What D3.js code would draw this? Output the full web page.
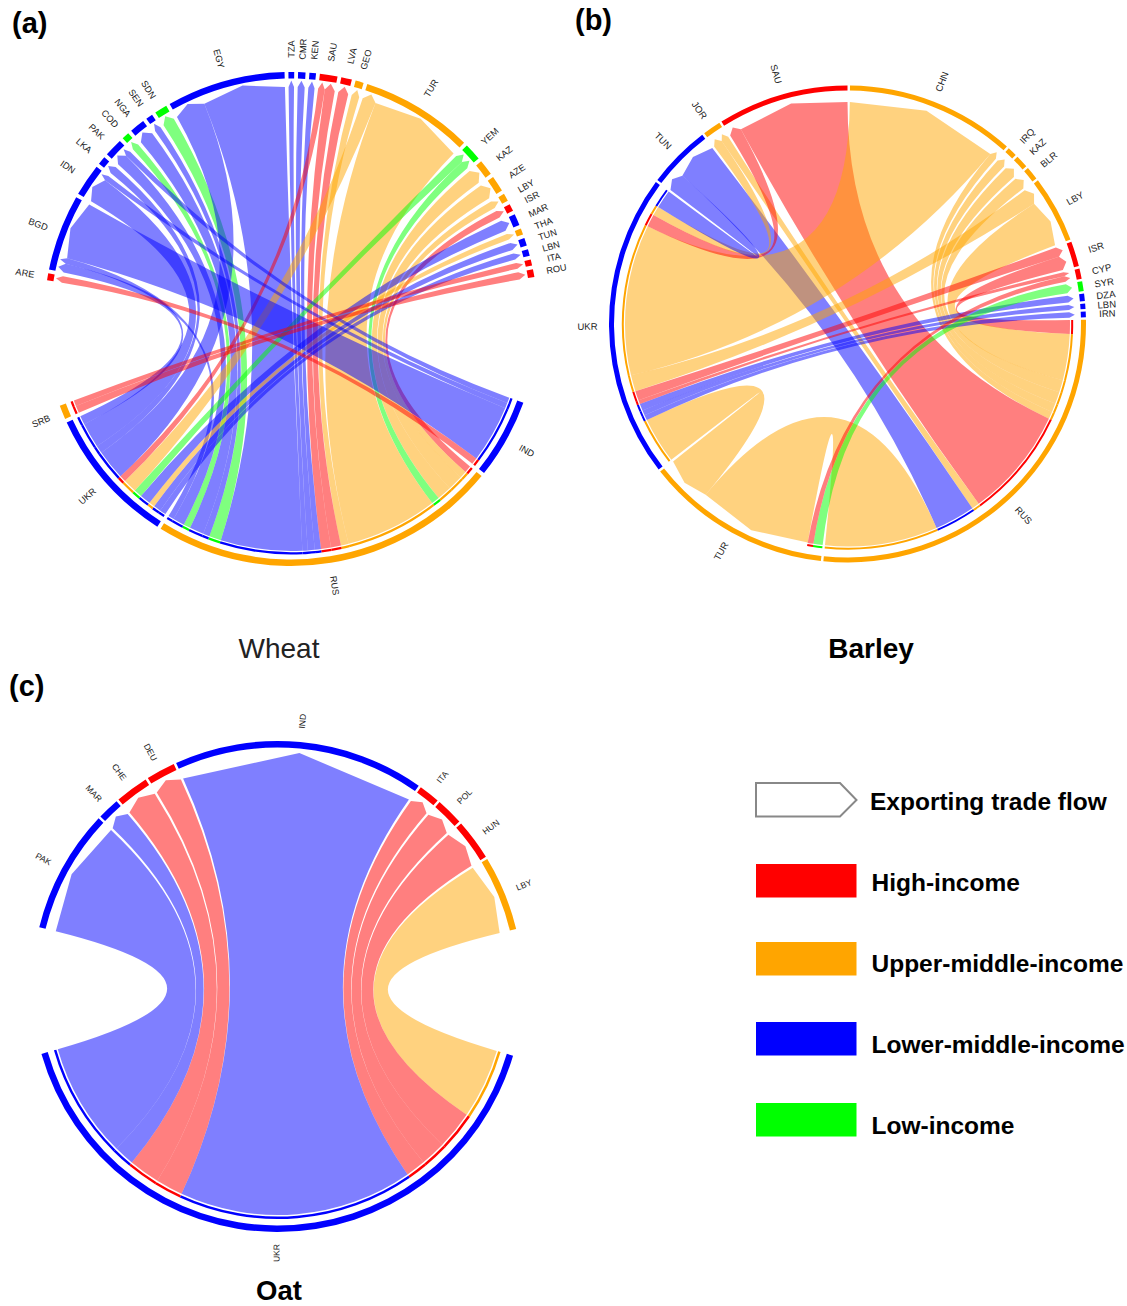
<!DOCTYPE html>
<html>
<head>
<meta charset="utf-8">
<script src="https://cdn.jsdelivr.net/npm/d3@7"></script>
<style>
html,body{margin:0;padding:0;background:#fff}
svg{display:block}
text{font-family:"Liberation Sans",Arial,sans-serif}
</style>
</head>
<body>
<div id="chart"></div>
<script>
// ---------- data: angular extents ----------
const incomeNames = ["High-income","Upper-middle-income","Lower-middle-income","Low-income"];
const incomeColors = ["#ff0000","#ffa500","#0000ff","#00ff00"];

// Wheat
const wheatCountries = ["TZA","CMR","KEN","SAU","LVA","GEO","TUR","YEM","KAZ","AZE","LBY","ISR","MAR","THA","TUN","LBN","ITA","ROU","IND","RUS","UKR","SRB","ARE","BGD","IDN","LKA","PAK","COD","NGA","SEN","SDN","EGY"];
const wheatIncome = [2,2,2,0,0,1,1,3,1,1,1,0,2,1,2,2,0,0,2,1,2,1,0,2,2,2,2,3,2,2,3,2];
const wheatFrom = ["RUS","RUS","RUS","RUS","RUS","RUS","RUS","RUS","RUS","RUS","RUS","RUS","RUS","RUS","RUS","RUS","RUS","RUS","RUS",
                   "UKR","UKR","UKR","UKR","UKR","UKR","UKR","UKR","UKR","UKR","UKR",
                   "IND","IND","IND","IND","SRB","SRB"];
const wheatTo   = ["ISR","LBY","AZE","KAZ","YEM","TUR","GEO","LVA","SAU","KEN","CMR","TZA","EGY","SDN","SEN","NGA","COD","PAK","BGD",
                   "LBN","TUN","THA","MAR","YEM","TUR","SAU","EGY","LKA","IDN","BGD",
                   "BGD","IDN","PAK","ARE","ROU","ITA"];
const wheatValue= [1.8,1.9,3.9,3.8,2.1,24.0,2.0,2.6,2.6,1.6,1.8,1.4,21.2,3.1,1.7,3.7,1.8,3.0,1.5,
                   1.6,1.9,1.5,2.8,2.1,3.5,1.7,7.8,2.0,6.5,2.3,
                   14.9,1.4,1.5,1.7,1.9,1.5];

// Barley
const barleyCountries = ["CHN","IRQ","KAZ","BLR","LBY","ISR","CYP","SYR","DZA","LBN","IRN","RUS","TUR","UKR","TUN","JOR","SAU"];
const barleyIncome = [1,1,1,1,1,0,0,3,2,2,2,1,1,2,2,1,0];
const barleyFrom = ["RUS","RUS","RUS","RUS","RUS","RUS","RUS","RUS","RUS","RUS",
                    "UKR","UKR","UKR","UKR","UKR","UKR","UKR","UKR","UKR","UKR","UKR",
                    "TUR","TUR"];
const barleyTo   = ["ISR","LBY","BLR","KAZ","IRQ","CHN","SAU","JOR","TUN","TUR",
                    "TUR","IRN","LBN","DZA","ISR","CYP","CHN","LBY","SAU","JOR","TUN",
                    "SYR","CYP"];
const barleyValue= [3.6,12.0,3.2,3.1,2.3,1.9,28.6,2.0,10.5,29.3,
                    12.0,1.4,1.3,1.8,2.5,1.0,39.3,4.2,3.2,2.4,4.8,
                    2.4,1.5];

// Oat
const oatCountries = ["IND","ITA","POL","HUN","LBY","UKR","PAK","MAR","CHE","DEU"];
const oatIncome = [2,0,0,0,1,2,2,2,0,0];
const oatFrom = ["UKR","UKR","UKR","UKR","UKR","UKR","UKR","UKR","UKR"];
const oatTo   = ["LBY","HUN","POL","ITA","IND","DEU","CHE","MAR","PAK"];
const oatValue= [17.8,9.7,6.5,5.0,59.6,6.9,7.9,5.2,29.3];

// ---------- layout settings ----------
const panels = [
  {countries:wheatCountries, income:wheatIncome, from:wheatFrom, to:wheatTo, value:wheatValue,
   cx:291, cy:319, R:247, track:6.5, gap:0.9, bigGap:29.6, bigAfter:["ROU","SRB"], start:359.4,
   ribbon:15, lineIn:13.8, lineOut:11.5, headBase:15, headApex:8.5, labelR:23, labelSize:9.2},
  {countries:barleyCountries, income:barleyIncome, from:barleyFrom, to:barleyTo, value:barleyValue,
   cx:847.5, cy:324, R:238.5, track:5, gap:0.6, bigGap:0.6, bigAfter:[], start:0.6,
   ribbon:16, lineIn:14.8, lineOut:12.8, headBase:16.5, headApex:11, labelR:21.5, labelSize:9.5},
  {countries:oatCountries, income:oatIncome, from:oatFrom, to:oatTo, value:oatValue,
   cx:277.5, cy:986.5, R:245.5, track:6.5, gap:0.6, bigGap:29.9, bigAfter:["LBY","UKR"], start:335.6,
   ribbon:17, lineIn:15.5, lineOut:13, headBase:17, headApex:11, labelR:21, labelSize:8.6}
];

const svg = d3.select("#chart").append("svg").attr("width",1127).attr("height",1306);
const rad = d => d*Math.PI/180;
const pt = (deg,r) => [r*Math.sin(rad(deg)), -r*Math.cos(rad(deg))];

panels.forEach(p=>{
  const g = svg.append("g").attr("transform",`translate(${p.cx},${p.cy})`);
  const totals = new Map(p.countries.map(c=>[c,0]));
  p.value.forEach((v,i)=>{ totals.set(p.from[i],totals.get(p.from[i])+v); totals.set(p.to[i],totals.get(p.to[i])+v); });
  const sumAll = d3.sum(totals.values());
  const sumGaps = d3.sum(p.countries,c=>p.bigAfter.includes(c)?p.bigGap:p.gap);
  const ang = d3.scaleLinear().domain([0,sumAll]).range([0,360-sumGaps]);

  // sectors, clockwise
  const sectors = new Map();
  let cur = p.start;
  p.countries.forEach((c,i)=>{
    const a0 = cur, a1 = cur + ang(totals.get(c));
    sectors.set(c,{name:c,income:p.income[i],a0,a1,mid:(a0+a1)/2,cursor:a0});
    cur = a1 + (p.bigAfter.includes(c)?p.bigGap:p.gap);
  });

  // slot positions in each sector: outgoing first, then incoming; no twisting
  const flows = p.value.map((v,i)=>({from:sectors.get(p.from[i]),to:sectors.get(p.to[i]),v}));
  const cw = (a,b)=>((b.mid-a.mid)+360)%360;
  p.countries.forEach(c=>{
    const s = sectors.get(c);
    const out = flows.filter(f=>f.from===s).sort((x,y)=>cw(s,y.to)-cw(s,x.to));
    out.forEach(f=>{ f.s0=s.cursor; f.s1=s.cursor+ang(f.v); s.cursor=f.s1; });
    const inc = flows.filter(f=>f.to===s).sort((x,y)=>cw(s,y.from)-cw(s,x.from));
    inc.forEach(f=>{ f.t0=s.cursor; f.t1=s.cursor+ang(f.v); s.cursor=f.t1; });
  });

  // ribbons
  const rE = p.R-p.ribbon, rB = p.R-p.headBase, rA = p.R-p.headApex;
  const ribbonPath = f=>{
    const path = d3.path();
    const s0 = pt(f.s0,rE);
    path.moveTo(s0[0],s0[1]);
    path.arc(0,0,rE,rad(f.s0)-Math.PI/2,rad(f.s1)-Math.PI/2);
    const t0 = pt(f.t0,rB);
    path.quadraticCurveTo(0,0,t0[0],t0[1]);
    const tip = pt((f.t0+f.t1)/2,rA), t1 = pt(f.t1,rB);
    path.lineTo(tip[0],tip[1]);
    path.lineTo(t1[0],t1[1]);
    path.quadraticCurveTo(0,0,s0[0],s0[1]);
    path.closePath();
    return path.toString();
  };
  g.selectAll("path.ribbon").data(flows).join("path").attr("class","ribbon")
    .attr("d",ribbonPath)
    .attr("fill",f=>incomeColors[f.to.income])
    .attr("fill-opacity",0.5);

  // exporter-side thin lines
  const lineArc = d3.arc().innerRadius(p.R-p.lineIn).outerRadius(p.R-p.lineOut);
  g.selectAll("path.line").data(flows).join("path").attr("class","line")
    .attr("d",f=>lineArc({startAngle:rad(f.s0),endAngle:rad(f.s1)}))
    .attr("fill",f=>incomeColors[f.to.income]);

  // outer track
  const arc = d3.arc().innerRadius(p.R-p.track).outerRadius(p.R);
  const secs = Array.from(sectors.values());
  g.selectAll("path.track").data(secs).join("path").attr("class","track")
    .attr("d",s=>arc({startAngle:rad(s.a0),endAngle:rad(s.a1)}))
    .attr("fill",s=>incomeColors[s.income]);

  // labels
  g.selectAll("text.lab").data(secs).join("text").attr("class","lab")
    .attr("transform",s=>{
      const m = ((s.mid%360)+360)%360;
      const q = pt(m,p.R+p.labelR);
      const rot = m<=180 ? m-90 : m+90;
      return `translate(${q[0]},${q[1]}) rotate(${rot})`;
    })
    .attr("text-anchor","middle").attr("dy","0.35em")
    .attr("font-size",p.labelSize).attr("fill","#222")
    .text(s=>s.name);
});

// panel letters and titles
const letters = [["(a)",12,33],["(b)",575,30],["(c)",9,696]];
svg.selectAll("text.letter").data(letters).join("text").attr("class","letter")
  .attr("x",d=>d[1]).attr("y",d=>d[2]).attr("font-size",29).attr("font-weight","bold").attr("fill","#000").text(d=>d[0]);
const titles = [["Wheat",279,658,"normal",28],["Barley",871,658,"bold",28],["Oat",279,1300,"bold",27.5]];
svg.selectAll("text.title").data(titles).join("text").attr("class","title")
  .attr("x",d=>d[1]).attr("y",d=>d[2]).attr("text-anchor","middle").attr("font-size",d=>d[4])
  .attr("font-weight",d=>d[3]).attr("fill",d=>d[3]==="bold"?"#000":"#222").text(d=>d[0]);

// legend
svg.append("path").attr("d","M756,783H840L856.5,800L840,816.5H756Z")
  .attr("fill","#fff").attr("stroke","#888").attr("stroke-width",2);
svg.append("text").attr("x",870).attr("y",810).attr("font-size",24.5).attr("font-weight","bold").attr("fill","#000").text("Exporting trade flow");
const legendY = [864,942,1022,1103];
const legendTextY = [890.5,971.5,1052.5,1133.5];
svg.selectAll("rect.leg").data(incomeNames).join("rect").attr("class","leg")
  .attr("x",756).attr("y",(d,i)=>legendY[i]).attr("width",100.5).attr("height",33.5).attr("fill",(d,i)=>incomeColors[i]);
svg.selectAll("text.leg").data(incomeNames).join("text").attr("class","leg")
  .attr("x",871.5).attr("y",(d,i)=>legendTextY[i]).attr("font-size",24.5).attr("font-weight","bold").attr("fill","#000").text(d=>d);
</script>
</body>
</html>
